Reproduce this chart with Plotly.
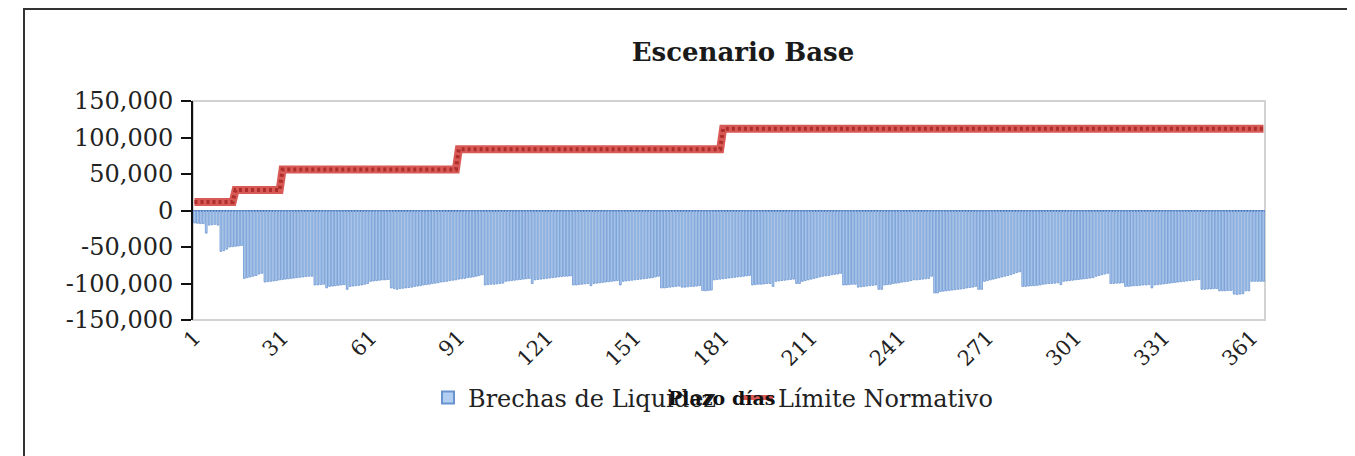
import plotly.graph_objects as go

# ---------------- data ----------------
days = list(range(1, 366))

brechas = [
    # 1-9
    -17000, -17500, -18000, -18000, -31000, -20000, -19500, -19000, -20000,
    # 10-17
    -56000, -55000, -53000, -50000, -49500, -49000, -48500, -48000,
    # 18-29
    -93000, -92000, -91000, -90000, -89000, -87000, -86000,
    -98000, -97500, -97000, -96500, -96000,
    # 30-41
    -95000, -94500, -94000, -93500, -93000, -92500, -92000, -91500, -91000, -90500, -90000, -90000,
    # 42-60
    -102000, -102000, -101500, -101000, -106000,
    -104000, -103500, -103000, -102500, -102000, -101500, -108000,
    -104000, -103500, -103000, -102500, -102000, -101000, -100000,
    # 61-73
    -97000, -96500, -96000, -95500, -95000, -95000, -94500,
    -106000, -107000, -108000, -107000, -106500, -106000,
    # 74-99
    -105500, -105000, -104000, -103500, -103000, -102000, -101500, -101000, -100000, -99500,
    -99000, -98000, -97500, -97000, -96000, -95500, -95000, -94000, -93500, -93000,
    -92000, -91500, -91000, -90000, -89000, -88000,
    # 100-116
    -102000, -101500, -101000, -101000, -100500, -100000, -99500,
    -97000, -96500, -96000, -95500, -95000, -94500, -94000, -93500, -93000,
    -100000,
    # 117-129
    -95000, -94500, -94000, -93500, -93000, -92500, -92000,
    -91500, -91000, -90500, -90000, -90000, -89500,
    # 130-146
    -102000, -102000, -101500, -101000, -100500, -100000, -103000,
    -100000, -99500, -99000, -98500, -98000, -97500, -97000, -96500, -96000,
    -102000,
    # 147-159
    -97000, -96500, -96000, -95500, -95000, -94500, -94000, -93500, -93000, -92500,
    -92000, -91000, -90000,
    # 160-177
    -106000, -106000, -105500, -105000, -104500, -104000, -103500,
    -105000, -105000, -104500, -104000, -104000, -103500, -103000,
    -109500, -110000, -109500, -109000,
    # 178-190
    -95000, -94500, -94000, -93500, -93000, -92500,
    -92000, -91500, -91000, -90500, -90000, -89500, -89000,
    # 191-207
    -102000, -101500, -101000, -101000, -100500, -100000, -100000, -104000,
    -97000, -96500, -96000, -95500, -95000, -94500, -94000,
    -100000, -100000,
    # 208-221
    -97000, -96000, -95000, -94000, -93000, -92000, -91000, -90000, -89500, -89000,
    -88000, -87500, -87000, -86000,
    # 222-235
    -102000, -102000, -101500, -101000, -101000,
    -105000, -104500, -104000, -103500, -103000, -102500, -102000,
    -108000, -108000,
    # 236-254
    -102000, -101500, -101000, -100000, -99500, -99000, -98000, -97500, -97000, -96000,
    -95000,
    -95000, -94500, -94000, -93500, -93000,
    -90000,
    -113000, -113000,
    # 255-269
    -111000, -110500, -110000, -109500, -109000, -108500, -108000, -107500, -107000, -106000,
    -105500, -105000, -104000,
    -108000, -108000,
    # 270-282
    -97000, -96000, -95000, -94000, -93000, -92000, -91000, -90000, -89000, -88000,
    -86500, -85000, -84000,
    # 283-296
    -104000, -104000, -103500, -103000, -103000, -102500, -102000,
    -101000, -100500, -100000, -100000, -99500, -99000, -101500,
    # 297-312
    -97000, -96500, -96000, -95500, -95000, -94500, -94000, -93500, -93000, -92500,
    -92000,
    -90000, -89000, -88000, -87000, -86000,
    # 313-327
    -100000, -100000, -99500, -99500, -99000,
    -104000, -104000, -103500, -103000, -103000, -102500, -102000, -102000, -101500,
    -106000,
    # 328-343
    -102000, -101500, -101000, -100500, -100000, -99500, -99000, -98500, -98000, -97500,
    -97000, -96500, -96000, -95500, -95000, -94500,
    # 344-365
    -108000, -108000, -107500, -107500, -107000, -107000,
    -110000, -110000, -110000, -109500, -109500,
    -114500, -115000, -114500, -114000,
    -110000, -110000,
    -97000, -97000, -97000, -97000, -97000,
]

# Normative limit: step levels by band (first day of each band)
limit_start_day = [1, 15, 31, 91, 181]
limit_level = [11500, 28000, 56000, 84000, 112000]

x_tick_vals = [1, 31, 61, 91, 121, 151, 181, 211, 241, 271, 301, 331, 361]
x_tick_text = ["1", "31", "61", "91", "121", "151", "181", "211", "241", "271", "301", "331", "361"]
y_tick_vals = [150000, 100000, 50000, 0, -50000, -100000, -150000]
y_tick_text = ["150,000", "100,000", "50,000", "0", "-50,000", "-100,000", "-150,000"]

title_text = "Escenario Base"
x_title_text = "Plazo días"
series_names = ["Brechas de Liquidez", "Límite Normativo"]

# expand the step limit per day
limite = []
for d in days:
    lvl = limit_level[0]
    for s, v in zip(limit_start_day, limit_level):
        if d >= s:
            lvl = v
    limite.append(lvl)

n = min(len(days), len(brechas))

# ---------------- figure ----------------
OFF = 8  # page body margin
W, H = 1355, 456
# target screen positions of the plot area
SL, SR, ST, SB = 193, 1265, 101, 320
L, T = SL - OFF, ST - OFF
R = W - (SR - OFF)
B = H - (SB - OFF)
pw, ph = W - L - R, H - T - B

def px_x(p):  # screen px -> paper
    return (p - OFF - L) / pw

def px_y(p):
    return (H - B - (p - OFF)) / ph

FONT = "DejaVu Serif"

fig = go.Figure()
fig.add_trace(go.Bar(
    x=days[:n], y=brechas[:n], name=series_names[0],
    marker=dict(color="#B2CFF1", line=dict(color="#6893CF", width=0.8)),
))
fig.add_trace(go.Scatter(
    x=days, y=limite, name=series_names[1], mode="lines",
    line=dict(color="#D85A56", width=8),
))
fig.add_trace(go.Scatter(
    x=days, y=limite, name=series_names[1], mode="lines", showlegend=False,
    line=dict(color="#AE2E2B", width=4, dash="3px,3px"), hoverinfo="skip",
))

fig.update_layout(
    width=W, height=H,
    margin=dict(l=L, r=R, t=T, b=B, autoexpand=False),
    paper_bgcolor="white", plot_bgcolor="white",
    bargap=0.4,
    font=dict(family=FONT, color="#222222"),
    title=dict(text=f"<b>{title_text}</b>", x=(743 - OFF) / W, xanchor="center",
               y=1 - (52 - OFF) / H, yanchor="middle",
               font=dict(size=26, family=FONT, color="#1a1a1a")),
    showlegend=True,
    legend=dict(orientation="h", x=px_x(428), xanchor="left", y=px_y(398), yanchor="middle",
                font=dict(size=24, family=FONT, color="#222222"),
                bgcolor="rgba(0,0,0,0)", entrywidthmode="pixels", entrywidth=265,
                itemsizing="constant"),
    xaxis=dict(range=[0.5, 365.5], tickmode="array", tickvals=x_tick_vals, ticktext=x_tick_text,
               tickangle=-45, showgrid=False, zeroline=False, showline=False, ticks="",
               tickfont=dict(size=21, family=FONT, color="#222222"), automargin=False),
    yaxis=dict(range=[-150000, 150000], tickmode="array", tickvals=y_tick_vals, ticktext=y_tick_text,
               showgrid=False, zeroline=True, zerolinecolor="#3F68AE", zerolinewidth=2,
               showline=True, linecolor="#111111", linewidth=2,
               ticks="outside", ticklen=10, tickwidth=2, tickcolor="#111111",
               ticklabelstandoff=3,
               tickfont=dict(size=24, family=FONT, color="#222222"), automargin=False),
    annotations=[dict(text=f"<b>{x_title_text}</b>", xref="paper", yref="paper",
                      x=px_x(721), y=px_y(398), xanchor="center", yanchor="middle",
                      showarrow=False, font=dict(size=19, family=FONT, color="#111111"))],
    shapes=[
        dict(type="rect", xref="paper", yref="paper", x0=0, x1=1, y0=0, y1=1,
             line=dict(color="#D2D2D2", width=2), layer="below"),
        dict(type="rect", xref="paper", yref="paper", x0=px_x(24), x1=px_x(1353),
             y0=px_y(480), y1=px_y(9), line=dict(color="#333333", width=2), layer="below"),
    ],
)

fig.write_html("out.html")
